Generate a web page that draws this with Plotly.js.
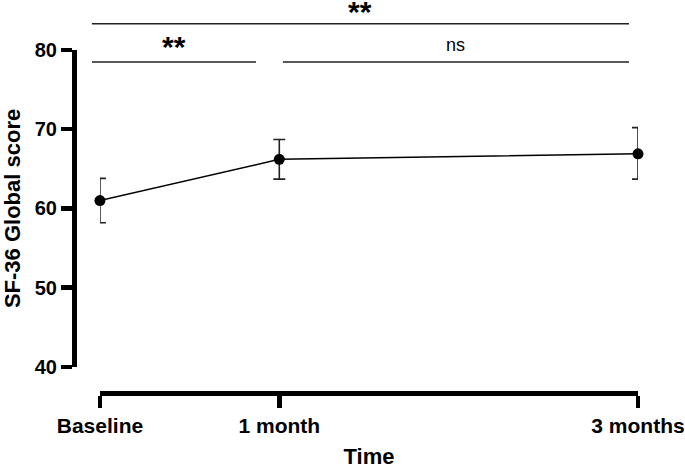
<!DOCTYPE html>
<html>
<head>
<meta charset="utf-8">
<script src="https://cdn.plot.ly/plotly-3.0.1.min.js"></script>
<style>
  html, body { margin: 0; padding: 0; background: #fff; }
  #chart { width: 685px; height: 469px; }
</style>
</head>
<body>
<div id="chart"></div>
<script>
// Time points (months) and their labels
var timeMonths = [0, 1, 3];
var timeLabels = ['Baseline', '1 month', '3 months'];

// SF-36 global score: mean and error bar (up / down)
var meanScore = [61.0, 66.2, 66.9];
var errUp = [2.8, 2.5, 3.3];
var errDown = [2.8, 2.5, 3.2];

// Significance comparisons (start / end in months, height in score units)
var sigStart = [-0.045, 1.02, -0.045];
var sigEnd = [0.87, 2.95, 2.95];
var sigLevel = [78.5, 78.5, 83.3];
var sigText = ['**', 'ns', '**'];
var sigTextLevel = [80.4, 80.6, 84.9];

var fontFamily = 'Arial, "Liberation Sans", sans-serif';

// axis geometry (ranges and domains)
var xRange = [0, 3];
var yRange = [40, 80];
var xDomain = [0.046, 1];
var yDomain = [0.076, 1];

// convert data units to paper units so the brackets can sit above the plot
function xPaper(v) {
    return xDomain[0] + (xDomain[1] - xDomain[0]) * (v - xRange[0]) / (xRange[1] - xRange[0]);
}
function yPaper(v) {
    return yDomain[0] + (yDomain[1] - yDomain[0]) * (v - yRange[0]) / (yRange[1] - yRange[0]);
}

var trace = {
    x: timeMonths,
    y: meanScore,
    type: 'scatter',
    mode: 'lines+markers',
    line: { color: '#000', width: 1.5 },
    marker: { color: '#000', size: 11 },
    error_y: {
        type: 'data',
        symmetric: false,
        array: errUp,
        arrayminus: errDown,
        color: '#222',
        thickness: 1.6,
        width: 6
    },
    cliponaxis: false,
    showlegend: false
};

var shapes = [];
var annotations = [];
for (var i = 0; i < sigText.length; i++) {
    shapes.push({
        type: 'line',
        xref: 'paper', yref: 'paper',
        x0: xPaper(sigStart[i]), x1: xPaper(sigEnd[i]),
        y0: yPaper(sigLevel[i]), y1: yPaper(sigLevel[i]),
        line: { color: '#222', width: 1.5 }
    });
    var isStar = sigText[i] !== 'ns';
    annotations.push({
        xref: 'paper', yref: 'paper',
        x: xPaper((sigStart[i] + sigEnd[i]) / 2),
        y: yPaper(sigTextLevel[i]),
        text: isStar ? '<b>' + sigText[i] + '</b>' : sigText[i],
        showarrow: false,
        xanchor: 'center', yanchor: 'middle',
        font: { family: fontFamily, size: isStar ? 30 : 18, color: '#000' }
    });
}

var layout = {
    width: 685,
    height: 469,
    margin: { l: 74, r: 47, t: 50, b: 76 },
    paper_bgcolor: '#fff',
    plot_bgcolor: '#fff',
    font: { family: fontFamily, color: '#000' },
    xaxis: {
        range: xRange,
        domain: xDomain,
        anchor: 'free',
        position: 0,
        tickvals: timeMonths,
        ticktext: timeLabels,
        tickfont: { size: 21, weight: 'bold' },
        ticks: 'outside',
        ticklen: 12,
        tickwidth: 4.5,
        tickcolor: '#000',
        showline: true,
        linecolor: '#000',
        linewidth: 4.5,
        showgrid: false,
        zeroline: false,
        title: { text: '<b>Time</b>', font: { size: 22 }, standoff: 15 }
    },
    yaxis: {
        range: yRange,
        domain: yDomain,
        anchor: 'free',
        position: 0,
        tickvals: [40, 50, 60, 70, 80],
        tickfont: { size: 20, weight: 'bold' },
        ticks: 'outside',
        ticklen: 11,
        tickwidth: 4.5,
        tickcolor: '#000',
        showline: true,
        linecolor: '#000',
        linewidth: 4.5,
        showgrid: false,
        zeroline: false,
        title: { text: '<b>SF-36 Global score</b>', font: { size: 22 }, standoff: 13 }
    },
    shapes: shapes,
    annotations: annotations
};

Plotly.newPlot('chart', [trace], layout, { displayModeBar: false, staticPlot: true });
</script>
</body>
</html>
